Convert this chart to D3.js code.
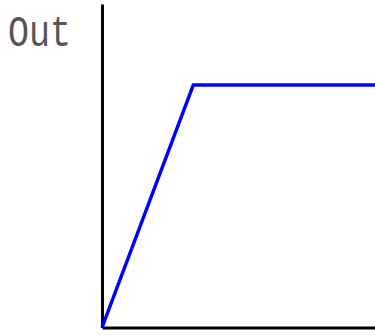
<!DOCTYPE html>
<html><head><meta charset="utf-8">
<script src="https://cdn.jsdelivr.net/npm/d3@7"></script>
<style>html,body{margin:0;padding:0;background:#fff;}svg{display:block;}</style>
</head><body>
<script>
const xValues = [0, 1, 3];
const yValues = [0, 3, 3];
const yLabel = "Out";

const W = 375, H = 336;
const svg = d3.select("body").append("svg").attr("width", W).attr("height", H);
const x = d3.scaleLinear().domain([0, 3]).range([102, 376]);
const y = d3.scaleLinear().domain([0, 4]).range([327.5, 4]);

svg.append("g").attr("transform", "translate(102,0)")
  .call(d3.axisLeft(y).tickValues([]).tickSizeOuter(0))
  .call(g => g.select(".domain").attr("stroke", "#000").attr("stroke-width", 3));
svg.append("g").attr("transform", "translate(0,327.5)")
  .call(d3.axisBottom(x).tickValues([]).tickSizeOuter(0))
  .call(g => g.select(".domain").attr("stroke", "#000").attr("stroke-width", 3));

const pts = xValues.map((v, i) => [v, yValues[i]]);
svg.append("path").datum(pts)
  .attr("fill", "none").attr("stroke", "#0000ff").attr("stroke-width", 3.5)
  .attr("d", d3.line().x(d => x(d[0])).y(d => y(d[1])));

svg.append("text").attr("transform", "translate(8,46) scale(1,1.25)")
  .attr("font-family", "Liberation Mono, monospace").attr("font-size", 35)
  .attr("fill", "#555").text(yLabel);
</script>
</body></html>
